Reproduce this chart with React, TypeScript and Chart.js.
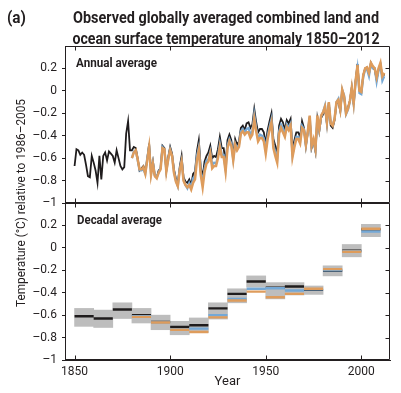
import React, { useEffect, useRef } from 'react';
import { Chart, registerables } from 'chart.js';

Chart.register(...registerables);

const FONT = "'Liberation Sans Narrow', 'Roboto', sans-serif";
const INK = '#231f20';
const BLACK_LINE = '#1f1c1d';
const ORANGE = '#de9c5c';
const BLUE = '#74a8d6';
const GREY = '#bdbdbd';

const TITLE_LINES = [
  'Observed globally averaged combined land and',
  'ocean surface temperature anomaly 1850–2012',
];
const PANEL_TAG = '(a)';
const TOP_LABEL = 'Annual average';
const BOTTOM_LABEL = 'Decadal average';
const Y_TITLE = 'Temperature (°C) relative to 1986–2005';
const X_TITLE = 'Year';

const X_TICKS = [1850, 1900, 1950, 2000];
const Y_TICKS = [-1, -0.8, -0.6, -0.4, -0.2, 0, 0.2];

// Annual averages (°C relative to 1986–2005)
const HADCRUT_START = 1850;
const hadcrutAnnual = [
  -0.67, -0.52, -0.53, -0.57, -0.55, -0.57, -0.66, -0.76, -0.77, -0.58,
  -0.64, -0.71, -0.82, -0.58, -0.79, -0.58, -0.55, -0.62, -0.54, -0.56,
  -0.58, -0.64, -0.53, -0.60, -0.67, -0.70, -0.68, -0.38, -0.27, -0.53,
  -0.53, -0.50, -0.51, -0.60, -0.71, -0.69, -0.67, -0.72, -0.61, -0.47,
  -0.72, -0.63, -0.76, -0.77, -0.71, -0.69, -0.49, -0.51, -0.71, -0.59,
  -0.50, -0.56, -0.70, -0.78, -0.82, -0.68, -0.58, -0.77, -0.81, -0.82,
  -0.79, -0.84, -0.74, -0.72, -0.54, -0.44, -0.68, -0.77, -0.63, -0.58,
  -0.55, -0.49, -0.60, -0.58, -0.59, -0.52, -0.41, -0.51, -0.51, -0.65,
  -0.44, -0.39, -0.44, -0.57, -0.43, -0.48, -0.45, -0.33, -0.31, -0.35,
  -0.29, -0.28, -0.33, -0.30, -0.16, -0.28, -0.37, -0.34, -0.34, -0.37,
  -0.47, -0.35, -0.27, -0.20, -0.43, -0.49, -0.57, -0.31, -0.25, -0.28,
  -0.35, -0.26, -0.29, -0.25, -0.52, -0.44, -0.37, -0.37, -0.41, -0.27,
  -0.33, -0.49, -0.37, -0.24, -0.51, -0.45, -0.54, -0.25, -0.36, -0.24,
  -0.21, -0.16, -0.29, -0.11, -0.31, -0.33, -0.26, -0.11, -0.10, -0.18,
  0.00, -0.05, -0.20, -0.15, -0.09, 0.03, -0.12, 0.09, 0.24, 0.01,
  -0.01, 0.14, 0.20, 0.21, 0.15, 0.25, 0.21, 0.19, 0.10, 0.19,
  0.24, 0.12, 0.15,
];

const OTHER_START = 1880;
const noaaAnnual = [
  -0.60, -0.55, -0.53, -0.61, -0.70, -0.70, -0.68, -0.74, -0.62, -0.50,
  -0.75, -0.65, -0.76, -0.78, -0.73, -0.70, -0.51, -0.52, -0.72, -0.61,
  -0.53, -0.58, -0.73, -0.81, -0.85, -0.71, -0.63, -0.80, -0.84, -0.86,
  -0.84, -0.88, -0.82, -0.79, -0.62, -0.53, -0.75, -0.86, -0.72, -0.65,
  -0.63, -0.56, -0.69, -0.67, -0.67, -0.60, -0.50, -0.59, -0.59, -0.72,
  -0.51, -0.45, -0.49, -0.62, -0.48, -0.53, -0.50, -0.38, -0.36, -0.39,
  -0.37, -0.37, -0.42, -0.39, -0.25, -0.36, -0.45, -0.42, -0.42, -0.45,
  -0.56, -0.43, -0.35, -0.28, -0.51, -0.58, -0.64, -0.38, -0.33, -0.37,
  -0.41, -0.32, -0.35, -0.31, -0.59, -0.50, -0.43, -0.43, -0.47, -0.33,
  -0.35, -0.48, -0.36, -0.22, -0.49, -0.43, -0.52, -0.22, -0.34, -0.22,
  -0.19, -0.14, -0.28, -0.10, -0.29, -0.31, -0.25, -0.10, -0.08, -0.17,
  0.01, -0.05, -0.20, -0.16, -0.09, 0.03, -0.11, 0.09, 0.23, 0.00,
  -0.01, 0.14, 0.20, 0.21, 0.16, 0.25, 0.22, 0.20, 0.12, 0.20,
  0.25, 0.13, 0.16,
];
const gissAnnual = [
  -0.60, -0.54, -0.53, -0.62, -0.71, -0.71, -0.70, -0.74, -0.60, -0.50,
  -0.74, -0.64, -0.75, -0.77, -0.73, -0.68, -0.50, -0.52, -0.71, -0.61,
  -0.52, -0.58, -0.72, -0.80, -0.85, -0.70, -0.62, -0.79, -0.84, -0.87,
  -0.82, -0.86, -0.78, -0.76, -0.58, -0.50, -0.72, -0.82, -0.69, -0.62,
  -0.61, -0.54, -0.66, -0.64, -0.65, -0.58, -0.47, -0.57, -0.57, -0.70,
  -0.49, -0.43, -0.47, -0.61, -0.47, -0.52, -0.48, -0.36, -0.34, -0.37,
  -0.34, -0.33, -0.39, -0.36, -0.21, -0.33, -0.43, -0.39, -0.40, -0.42,
  -0.52, -0.40, -0.32, -0.25, -0.48, -0.54, -0.61, -0.36, -0.30, -0.33,
  -0.39, -0.30, -0.33, -0.29, -0.57, -0.48, -0.41, -0.41, -0.45, -0.31,
  -0.34, -0.49, -0.37, -0.23, -0.50, -0.44, -0.53, -0.23, -0.35, -0.23,
  -0.19, -0.13, -0.29, -0.11, -0.29, -0.31, -0.25, -0.10, -0.07, -0.17,
  0.01, -0.04, -0.21, -0.17, -0.10, 0.02, -0.12, 0.07, 0.20, -0.02,
  -0.03, 0.12, 0.19, 0.19, 0.13, 0.24, 0.20, 0.20, 0.08, 0.18,
  0.23, 0.09, 0.13,
];

// Decadal averages
const DECADES = [1850, 1860, 1870, 1880, 1890, 1900, 1910, 1920, 1930, 1940, 1950, 1960, 1970, 1980, 1990, 2000];
const DECADE_SPAN = 10;
const hadcrutDecadal = [-0.61, -0.63, -0.55, -0.60, -0.66, -0.705, -0.69, -0.54, -0.41, -0.30, -0.355, -0.345, -0.375, -0.205, -0.025, 0.165];
const noaaDecadal = [null, null, null, -0.615, -0.665, -0.73, -0.75, -0.62, -0.47, -0.39, -0.44, -0.41, -0.365, -0.19, -0.035, 0.17];
const gissDecadal = [null, null, null, -0.61, -0.665, -0.725, -0.72, -0.60, -0.455, -0.365, -0.36, -0.38, -0.37, -0.20, -0.03, 0.145];
const uncertaintyLow = [-0.70, -0.71, -0.63, -0.67, -0.73, -0.775, -0.755, -0.635, -0.49, -0.35, -0.455, -0.42, -0.415, -0.25, -0.08, 0.10];
const uncertaintyHigh = [-0.54, -0.555, -0.49, -0.54, -0.60, -0.655, -0.625, -0.49, -0.365, -0.25, -0.31, -0.31, -0.34, -0.16, 0.03, 0.21];

const annualPoints = (start: number, vals: number[]) => vals.map((v, i) => ({ x: start + i, y: v }));
const stepPoints = (vals: (number | null)[]) => {
  const out: { x: number; y: number | null }[] = [];
  DECADES.forEach((d, i) => {
    const v = vals[i];
    if (v == null) return;
    out.push({ x: d, y: v }, { x: d + DECADE_SPAN, y: v }, { x: d + DECADE_SPAN, y: null });
  });
  return out;
};

const fmtY = (v: number) => (v === 0 ? '0' : v < 0 ? '\u2013' + String(Math.abs(v)) : String(v));

function drawFitted(
  ctx: CanvasRenderingContext2D,
  text: string,
  x: number,
  y: number,
  font: string,
  width: number,
  align: CanvasTextAlign,
) {
  ctx.save();
  ctx.font = font;
  ctx.fillStyle = INK;
  ctx.textAlign = align;
  ctx.textBaseline = 'alphabetic';
  const w = ctx.measureText(text).width;
  const s = Math.max(0.75, Math.min(1.15, width / w));
  ctx.translate(x, y);
  ctx.scale(s, 1);
  ctx.fillText(text, 0, 0);
  ctx.restore();
}

const decorPlugin = {
  id: 'decor',
  afterDatasetsDraw(chart: any) {
    const ctx: CanvasRenderingContext2D = chart.ctx;
    const xs = chart.scales.x;
    const l = Math.round(chart.chartArea.left) + 0.5;
    const r = Math.round(chart.chartArea.right) - 0.5;
    ctx.save();
    ctx.strokeStyle = INK;
    ctx.lineWidth = 1;
    ['yTop', 'yBot'].forEach((id) => {
      const s = chart.scales[id];
      const t = Math.round(s.top) + 0.5;
      const b = Math.round(s.bottom) - 0.5;
      ctx.beginPath();
      ctx.rect(l, t, r - l, b - t);
      X_TICKS.forEach((v) => {
        const px = Math.round(xs.getPixelForValue(v)) + 0.5;
        ctx.moveTo(px, t);
        ctx.lineTo(px, t + 4);
        ctx.moveTo(px, b);
        ctx.lineTo(px, b - 4);
      });
      Y_TICKS.forEach((v) => {
        const py = Math.round(s.getPixelForValue(v)) + 0.5;
        ctx.moveTo(r, py);
        ctx.lineTo(r - 4, py);
      });
      ctx.stroke();
    });
    ctx.restore();
  },
  afterDraw(chart: any) {
    const ctx: CanvasRenderingContext2D = chart.ctx;
    drawFitted(ctx, PANEL_TAG, 7, 23, `bold 16px ${FONT}`, 19, 'left');
    drawFitted(ctx, TITLE_LINES[0], 226, 23, `bold 16px ${FONT}`, 306, 'center');
    drawFitted(ctx, TITLE_LINES[1], 226, 44, `bold 16px ${FONT}`, 307, 'center');
    drawFitted(ctx, TOP_LABEL, 76, 67, `bold 12px ${FONT}`, 81, 'left');
    drawFitted(ctx, BOTTOM_LABEL, 77, 224, `bold 12px ${FONT}`, 85, 'left');
    ctx.save();
    ctx.translate(25, 203);
    ctx.rotate(-Math.PI / 2);
    drawFitted(ctx, Y_TITLE, 0, 0, `12px ${FONT}`, 208, 'center');
    ctx.restore();
  },
};

const yAxis = () => ({
  type: 'linear' as const,
  position: 'left' as const,
  stack: 'panels',
  stackWeight: 1,
  min: -1,
  max: 0.4,
  offset: false,
  afterBuildTicks: (s: any) => {
    s.ticks = Y_TICKS.map((v) => ({ value: v }));
  },
  afterFit: (s: any) => {
    s.width = 65;
  },
  grid: { drawOnChartArea: false, drawTicks: true, tickLength: 3, color: INK, lineWidth: 1 },
  border: { display: true, color: INK, width: 1 },
  ticks: {
    font: { family: FONT, size: 12 },
    color: INK,
    padding: 5,
    autoSkip: false,
    callback: (v: any) => fmtY(Number(v)),
  },
});

export default function App() {
  const ref = useRef<HTMLCanvasElement>(null);
  useEffect(() => {
    if (!ref.current) return;
    const chart = new Chart(ref.current, {
      type: 'line',
      data: {
        datasets: [
          {
            type: 'line',
            label: 'HadCRUT4 annual',
            yAxisID: 'yTop',
            data: annualPoints(HADCRUT_START, hadcrutAnnual),
            borderColor: BLACK_LINE,
            borderWidth: 1.8,
            pointRadius: 0,
            order: 3,
          },
          {
            type: 'line',
            label: 'GISS annual',
            yAxisID: 'yTop',
            data: annualPoints(OTHER_START, gissAnnual),
            borderColor: BLUE,
            borderWidth: 2.2,
            pointRadius: 0,
            order: 2,
          },
          {
            type: 'line',
            label: 'NOAA annual',
            yAxisID: 'yTop',
            data: annualPoints(OTHER_START, noaaAnnual),
            borderColor: ORANGE,
            borderWidth: 2.5,
            pointRadius: 0,
            order: 1,
          },
          {
            type: 'bar',
            label: 'Decadal uncertainty',
            yAxisID: 'yBot',
            data: DECADES.map((d, i) => ({ x: d + DECADE_SPAN / 2, y: [uncertaintyLow[i], uncertaintyHigh[i]] })) as any,
            backgroundColor: GREY,
            borderWidth: 0,
            barPercentage: 1,
            categoryPercentage: 1,
            grouped: false,
            order: 10,
          },
          {
            type: 'line',
            label: 'HadCRUT4 decadal',
            yAxisID: 'yBot',
            data: stepPoints(hadcrutDecadal) as any,
            borderColor: BLACK_LINE,
            borderWidth: 2.4,
            pointRadius: 0,
            spanGaps: false,
            order: 6,
          },
          {
            type: 'line',
            label: 'GISS decadal',
            yAxisID: 'yBot',
            data: stepPoints(gissDecadal) as any,
            borderColor: BLUE,
            borderWidth: 2.4,
            pointRadius: 0,
            spanGaps: false,
            order: 5,
          },
          {
            type: 'line',
            label: 'NOAA decadal',
            yAxisID: 'yBot',
            data: stepPoints(noaaDecadal) as any,
            borderColor: ORANGE,
            borderWidth: 2.4,
            pointRadius: 0,
            spanGaps: false,
            order: 4,
          },
        ],
      },
      options: {
        responsive: false,
        animation: false,
        devicePixelRatio: 1,
        events: [],
        layout: { padding: { top: 46, right: 11, left: 0, bottom: 0 } },
        plugins: { legend: { display: false }, tooltip: { enabled: false }, title: { display: false } },
        scales: {
          x: {
            type: 'linear',
            position: 'bottom',
            min: 1845,
            max: 2015,
            offset: false,
            afterBuildTicks: (s: any) => {
              s.ticks = X_TICKS.map((v) => ({ value: v }));
            },
            afterFit: (s: any) => {
              s.height = 33;
            },
            grid: { drawOnChartArea: false, drawTicks: false, offset: false },
            border: { display: true, color: INK, width: 1 },
            ticks: {
              font: { family: FONT, size: 12 },
              color: INK,
              padding: 5,
              maxRotation: 0,
              autoSkip: false,
              callback: (v: any) => String(v),
            },
            title: {
              display: true,
              text: X_TITLE,
              color: INK,
              font: { family: FONT, size: 13 },
              padding: { top: 0, bottom: 3 },
            },
          },
          yBot: yAxis(),
          yTop: yAxis(),
        } as any,
      },
      plugins: [decorPlugin],
    });
    return () => chart.destroy();
  }, []);
  return (
    <div style={{ position: 'fixed', left: 0, top: 0, width: 401, height: 393, background: '#fff' }}>
      <canvas ref={ref} width={401} height={393} style={{ display: 'block', width: 401, height: 393 }} />
    </div>
  );
}
